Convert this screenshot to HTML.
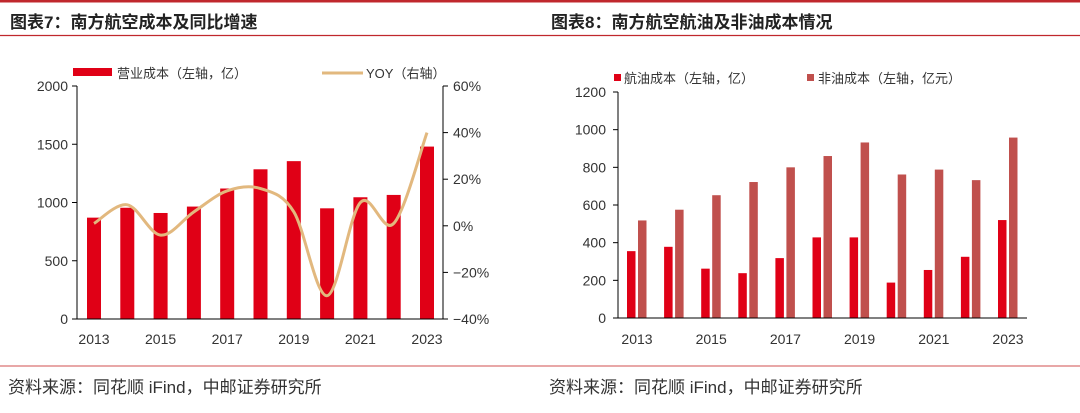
<!DOCTYPE html>
<html><head><meta charset="utf-8">
<style>
html,body{margin:0;padding:0;background:#fff;}
body{width:1080px;height:408px;overflow:hidden;font-family:"Liberation Sans","Noto Sans CJK SC",sans-serif;}
svg text{font-family:"Liberation Sans","Noto Sans CJK SC",sans-serif;}
</style></head>
<body>
<svg id="s" width="1080" height="408" xmlns="http://www.w3.org/2000/svg">
<rect x="0" y="0" width="1080" height="2.5" fill="#c0282d"/>
<line x1="0" y1="35.5" x2="1080" y2="35.5" stroke="#c0282d" stroke-width="1.2"/>
<text x="10" y="28" font-size="17" font-weight="bold" fill="#222">图表7：南方航空成本及同比增速</text>
<text x="551" y="28" font-size="17" font-weight="bold" fill="#222">图表8：南方航空航油及非油成本情况</text>
<line x1="0" y1="366" x2="1080" y2="366" stroke="#e08a8a" stroke-width="1.5"/>
<text x="8" y="393" font-size="17" fill="#333">资料来源：同花顺 iFind，中邮证券研究所</text>
<text x="549" y="393" font-size="17" fill="#333">资料来源：同花顺 iFind，中邮证券研究所</text>
<g id="c1"></g><g id="c2"></g>
</svg>
<script>
const years=['2013','2014','2015','2016','2017','2018','2019','2020','2021','2022','2023'];
const costVals=[870,955,910,965,1120,1285,1355,950,1045,1065,1480];
const yoyVals=[1,9,-4,6,15,16,6,-30,10,1,40];
const leftTicks=[0,500,1000,1500,2000];
const rightTicks=[-40,-20,0,20,40,60];
const fuelVals=[355,378,262,238,318,428,428,188,255,325,520];
const nonFuelVals=[518,575,652,722,800,860,932,762,788,732,958];
const ticks2=[0,200,400,600,800,1000,1200];
const NS='http://www.w3.org/2000/svg';
function mk(p,tag,a,txt){const e=document.createElementNS(NS,tag);for(const k in a)e.setAttribute(k,a[k]);if(txt!==undefined)e.textContent=txt;p.appendChild(e);return e;}
// chart 1
const g1=document.getElementById('c1');
const x1=i=>94+i*33.3, y1=v=>319-v/2000*233, yr=v=>319-(v+40)/100*233;
let e;
costVals.forEach((v,i)=>{e=mk(g1,'rect',{x:x1(i)-7,y:y1(v),width:14,height:319-y1(v),fill:'#e00016'});

});
// smooth line
const pts=yoyVals.map((v,i)=>[x1(i),yr(v)]);
let d='M'+pts[0][0]+','+pts[0][1];
for(let i=0;i<pts.length-1;i++){const p0=pts[Math.max(0,i-1)],p1=pts[i],p2=pts[i+1],p3=pts[Math.min(pts.length-1,i+2)];
d+=' C'+(p1[0]+(p2[0]-p0[0])/6)+','+(p1[1]+(p2[1]-p0[1])/6)+' '+(p2[0]-(p3[0]-p1[0])/6)+','+(p2[1]-(p3[1]-p1[1])/6)+' '+p2[0]+','+p2[1];}
e=mk(g1,'path',{d:d,fill:'none',stroke:'#e2b87e','stroke-width':3});


mk(g1,'line',{x1:77,y1:86,x2:77,y2:319,stroke:'#000','stroke-width':1});
mk(g1,'line',{x1:443,y1:86,x2:443,y2:319,stroke:'#000','stroke-width':1});
mk(g1,'line',{x1:77,y1:319,x2:443,y2:319,stroke:'#000','stroke-width':1});
leftTicks.forEach(t=>{mk(g1,'line',{x1:72,y1:y1(t),x2:77,y2:y1(t),stroke:'#000'});
e=mk(g1,'text',{x:68,y:y1(t)+5,'font-size':14,'text-anchor':'end',fill:'#333'},t);

});
rightTicks.forEach(t=>{mk(g1,'line',{x1:443,y1:yr(t),x2:448,y2:yr(t),stroke:'#000'});
e=mk(g1,'text',{x:453,y:yr(t)+5,'font-size':14,fill:'#333'},(t<0?'−':'')+Math.abs(t)+'%');

});
years.forEach((yv,i)=>{if(i%2==0){e=mk(g1,'text',{x:x1(i),y:344,'font-size':14,'text-anchor':'middle',fill:'#333'},yv);

}});
mk(g1,'rect',{x:73,y:68,width:39,height:8,fill:'#e00016'});
e=mk(g1,'text',{x:117,y:78,'font-size':13,fill:'#333'},'营业成本（左轴，亿）');


mk(g1,'line',{x1:322,y1:73,x2:363,y2:73,stroke:'#e2b87e','stroke-width':3});
e=mk(g1,'text',{x:366,y:78,'font-size':13,fill:'#333'},'YOY（右轴）');


// chart 2
const g2=document.getElementById('c2');
const x2=i=>637+i*37.1, y2=v=>318-v/1200*226;
years.forEach((yv,i)=>{
e=mk(g2,'rect',{x:x2(i)-10,y:y2(fuelVals[i]),width:8.5,height:318-y2(fuelVals[i]),fill:'#e00016'});


e=mk(g2,'rect',{x:x2(i)+1,y:y2(nonFuelVals[i]),width:8.5,height:318-y2(nonFuelVals[i]),fill:'#c0504d'});


if(i%2==0){e=mk(g2,'text',{x:x2(i),y:344,'font-size':14,'text-anchor':'middle',fill:'#333'},yv);

}});
mk(g2,'line',{x1:618,y1:92,x2:618,y2:318,stroke:'#000'});
mk(g2,'line',{x1:618,y1:318,x2:1027,y2:318,stroke:'#000'});
ticks2.forEach(t=>{mk(g2,'line',{x1:613,y1:y2(t),x2:618,y2:y2(t),stroke:'#000'});
e=mk(g2,'text',{x:606,y:y2(t)+5,'font-size':14,'text-anchor':'end',fill:'#333'},t);

});
mk(g2,'rect',{x:614,y:74,width:7,height:7,fill:'#e00016'});
e=mk(g2,'text',{x:624,y:83,'font-size':13,fill:'#333'},'航油成本（左轴，亿）');


mk(g2,'rect',{x:807,y:74,width:7,height:7,fill:'#c0504d'});
e=mk(g2,'text',{x:818,y:83,'font-size':13,fill:'#333'},'非油成本（左轴，亿元）');


</script>
</body></html>
